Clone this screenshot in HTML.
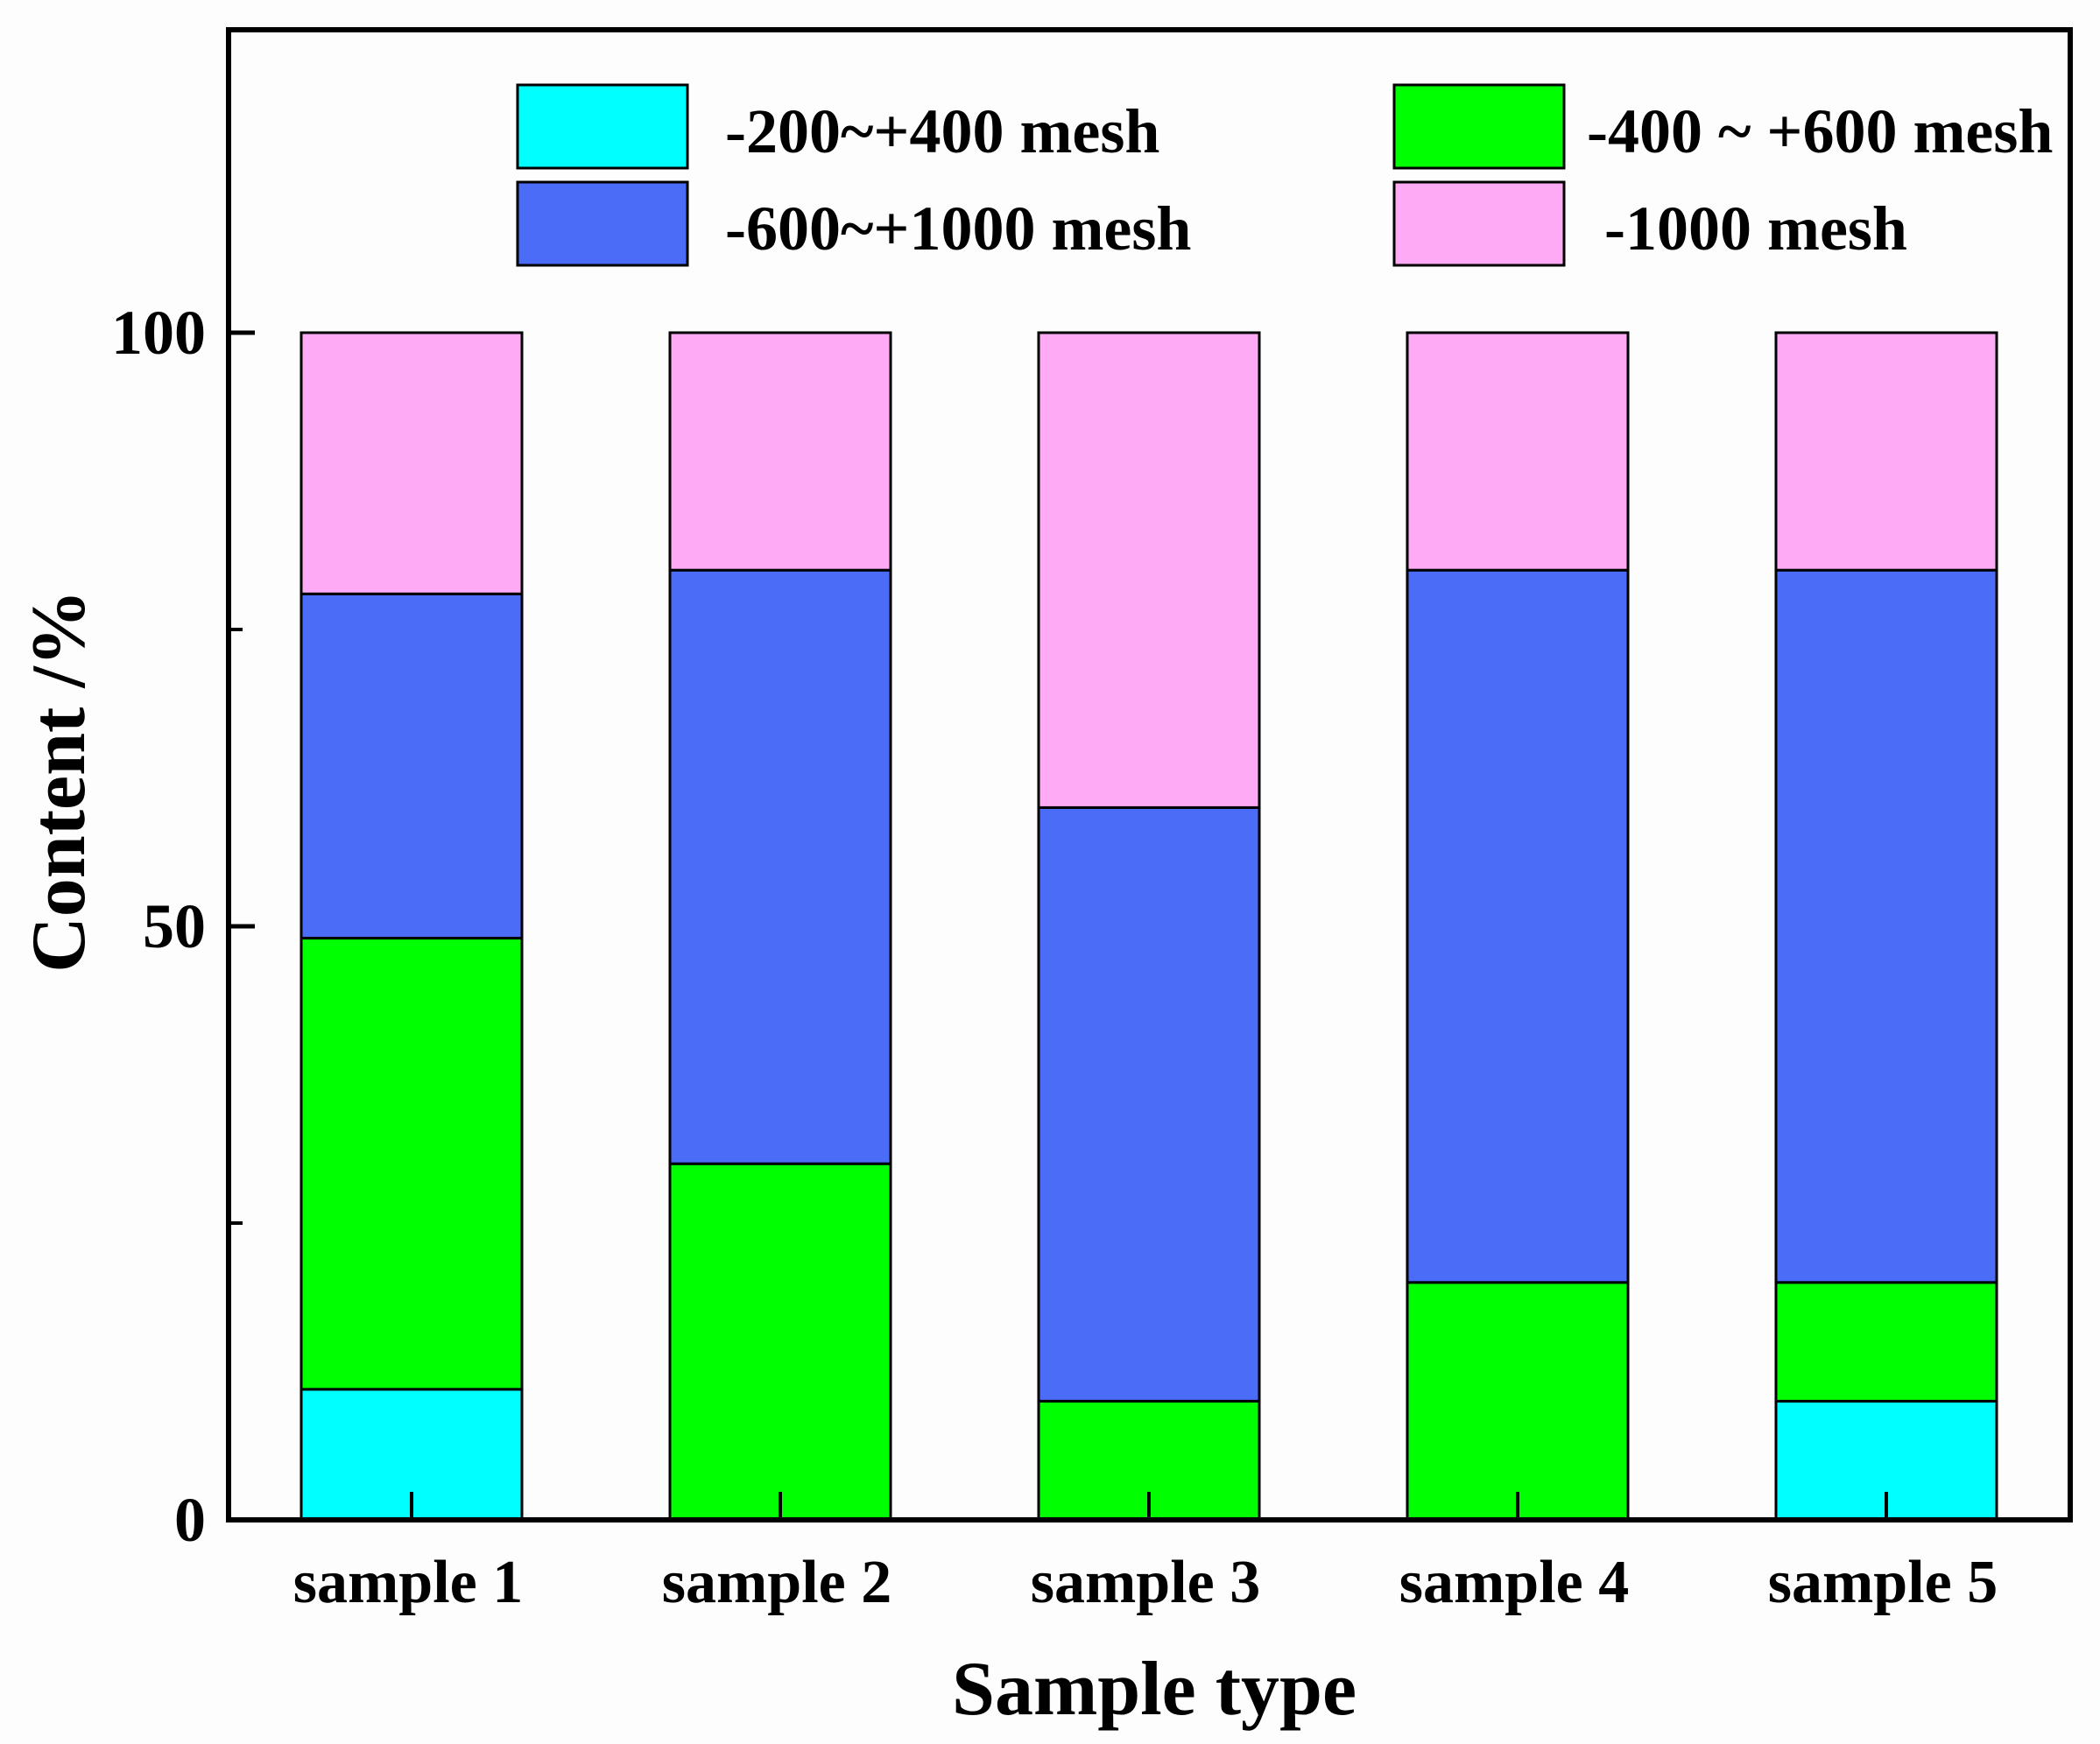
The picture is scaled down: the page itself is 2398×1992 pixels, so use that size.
<!DOCTYPE html>
<html><head><meta charset="utf-8"><style>
html,body{margin:0;padding:0;background:#fdfdfd;}
svg{display:block;font-family:"Liberation Serif",serif;font-weight:bold;}
</style></head><body>
<svg id="chart" width="2398" height="1992" viewBox="0 0 2398 1992">
<rect x="0" y="0" width="2398" height="1992" fill="#fdfdfd"/>
<g id="bars"></g>
<g id="axes"></g>
<g>
  <rect x="591" y="97" width="194" height="95" fill="#00ffff" stroke="#000" stroke-width="3"/>
  <text x="828" y="174" font-size="72">-200~+400 mesh</text>
  <rect x="591" y="208" width="194" height="95" fill="#4a6cf7" stroke="#000" stroke-width="3"/>
  <text x="828" y="285" font-size="72">-600~+1000 mesh</text>
  <rect x="1592" y="97" width="194" height="95" fill="#00ff00" stroke="#000" stroke-width="3"/>
  <text x="1812" y="174" font-size="72">-400 ~ +600 mesh</text>
  <rect x="1592" y="208" width="194" height="95" fill="#ffaaf5" stroke="#000" stroke-width="3"/>
  <text x="1832" y="285" font-size="72">-1000 mesh</text>
</g>
<text transform="translate(96,892) rotate(-90)" text-anchor="middle" font-size="88">Content /%</text>
<text x="1318" y="1958" text-anchor="middle" font-size="88">Sample type</text>
</svg>
<script>
const categories = ["sample 1","sample 2","sample 3","sample 4","sample 5"];
const s200_400 = [11, 0, 0, 0, 10];
const s400_600 = [38, 30, 10, 20, 10];
const s600_1000 = [29, 50, 50, 60, 60];
const s1000 = [22, 20, 40, 20, 20];
const seriesColors = ["#00ffff","#00ff00","#4a6cf7","#ffaaf5"];
const seriesNames = ["band-200-400","band-400-600","band-600-1000","band-1000"];
const yTicks = [0, 50, 100];
const yMinorTicks = [25, 75];

const NS = "http://www.w3.org/2000/svg";
const L = 261, R = 2364, T = 34, B = 1736;
const y0px = 1736, y100px = 380;
function yScale(v){ return y0px - (v/100)*(y0px - y100px); }
function xCenter(i){ return 470 + i*421; }
const barW = 252;
function mk(tag, attrs, parent){
  const el = document.createElementNS(NS, tag);
  for (const k in attrs) el.setAttribute(k, attrs[k]);
  parent.appendChild(el);
  return el;
}
const bars = document.getElementById("bars");
const axes = document.getElementById("axes");
const allSeries = [s200_400, s400_600, s600_1000, s1000];
categories.forEach((c, i) => {
  let cum = 0;
  allSeries.forEach((ser, si) => {
    const v = ser[i];
    if (v <= 0) return;
    const yTop = yScale(cum + v), yBot = yScale(cum);
    const r = mk("rect", {x: xCenter(i) - barW/2, y: yTop, width: barW, height: yBot - yTop, fill: seriesColors[si], stroke: "#000", "stroke-width": 3}, bars);
    
    
    cum += v;
  });
  const t = mk("line", {x1: xCenter(i), x2: xCenter(i), y1: B, y2: B - 32, stroke: "#000", "stroke-width": 4}, axes);
  
  
  const lb = mk("text", {x: xCenter(i) - 4, y: 1830, "text-anchor": "middle", "font-size": 70}, axes);
  lb.textContent = c;
  
  
});
const frame = mk("rect", {x: L, y: T, width: R - L, height: B - T, fill: "none", stroke: "#000", "stroke-width": 6}, axes);


yTicks.forEach(v => {
  const t = mk("line", {x1: L, x2: L + 30, y1: yScale(v), y2: yScale(v), stroke: "#000", "stroke-width": 5}, axes);
  
  
  const lb = mk("text", {x: L - 26, y: yScale(v) + 24, "text-anchor": "end", "font-size": 72}, axes);
  lb.textContent = v;
  
  
});
yMinorTicks.forEach(v => {
  const t = mk("line", {x1: L, x2: L + 16, y1: yScale(v), y2: yScale(v), stroke: "#000", "stroke-width": 4}, axes);
  
  
});
</script>
</body></html>
